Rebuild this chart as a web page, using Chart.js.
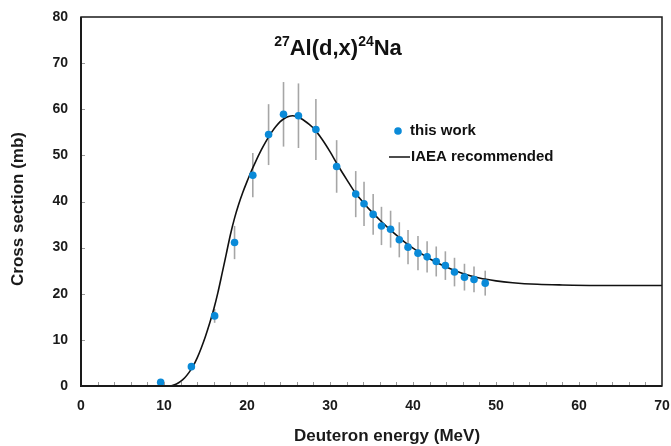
<!DOCTYPE html>
<html>
<head>
<meta charset="utf-8">
<script src="https://cdn.jsdelivr.net/npm/chart.js@4.4.1/dist/chart.umd.min.js"></script>
<style>
  html, body { margin: 0; padding: 0; background: #fff; }
  #wrap { width: 671px; height: 446px; position: relative; }
</style>
</head>
<body>
<div id="wrap"><canvas id="c" width="671" height="446"></canvas></div>
<script>
// Measured cross sections: deuteron energy (MeV), cross section (mb), uncertainty (mb)
const measEnergy = [9.6, 13.3, 16.1, 18.5, 20.7, 22.6, 24.4, 26.2, 28.3, 30.8, 33.1, 34.1, 35.2, 36.2, 37.3, 38.35, 39.4, 40.6, 41.7, 42.8, 43.9, 45.0, 46.2, 47.35, 48.7];
const measSigma  = [0.8, 4.2, 15.2, 31.1, 45.7, 54.5, 58.9, 58.6, 55.6, 47.6, 41.6, 39.5, 37.2, 34.7, 34.0, 31.7, 30.1, 28.8, 28.0, 27.0, 26.1, 24.7, 23.6, 23.1, 22.3];
const measErr    = [0.2, 0.4, 1.5, 3.6, 4.8, 6.6, 7.0, 7.0, 6.6, 5.7, 5.0, 4.8, 4.4, 4.15, 4.0, 3.8, 3.7, 3.7, 3.4, 3.25, 3.1, 3.1, 2.9, 2.8, 2.7];

// IAEA recommended excitation function
const iaeaEnergy = [10.6, 11, 11.5, 12, 12.5, 13, 13.5, 14, 14.5, 15, 15.5, 16, 16.5, 17, 17.5, 18, 18.5, 19, 19.5, 20, 20.5, 21, 21.5, 22, 22.5, 23, 23.5, 24, 24.5, 25, 25.5, 26, 26.5, 27, 27.5, 28, 29, 30, 31, 32, 33, 34, 35, 36, 37, 38, 39, 40, 42, 44, 46, 48, 50, 52, 55, 58, 62, 66, 70];
const iaeaSigma  = [0, 0.12, 0.45, 1.0, 1.8, 2.9, 4.3, 6.1, 8.3, 10.8, 13.6, 16.7, 20.3, 24.4, 28.6, 32.8, 36.4, 39.4, 42.0, 44.3, 46.5, 48.5, 50.4, 52.1, 53.7, 55.1, 56.3, 57.3, 58.0, 58.45, 58.6, 58.4, 58.0, 57.4, 56.7, 55.9, 53.6, 50.8, 47.7, 44.8, 42.0, 39.8, 37.8, 36.0, 34.3, 32.7, 31.2, 29.9, 27.6, 25.8, 24.4, 23.4, 22.8, 22.4, 22.05, 21.9, 21.8, 21.8, 21.8];

const xTickLabels = [0, 10, 20, 30, 40, 50, 60, 70];
const yTickLabels = [0, 10, 20, 30, 40, 50, 60, 70, 80];

const xTitle = 'Deuteron energy (MeV)';
const yTitle = 'Cross section (mb)';
const legendLabels = ['this work', 'IAEA recommended'];
const titleParts = [['27', true], ['Al(d,x)', false], ['24', true], ['Na', false]];

const dotColor = '#0a8ad8';
const textColor = '#1a1a1a';
const fontFam = 'Arial, "Liberation Sans", Helvetica, sans-serif';

const measPoints = measEnergy.map((e, i) => ({ x: e, y: measSigma[i] }));
const iaeaPoints = iaeaEnergy.map((e, i) => ({ x: e, y: iaeaSigma[i] }));

// Error bars, inner tick marks, frame, titles and legend
const decor = {
  id: 'decor',
  beforeDatasetsDraw(chart) {
    const ctx = chart.ctx;
    const xs = chart.scales.x, ys = chart.scales.y;
    ctx.save();
    ctx.strokeStyle = '#a6a6a6';
    ctx.lineWidth = 1.6;
    measEnergy.forEach((e, i) => {
      const px = xs.getPixelForValue(e);
      const top = ys.getPixelForValue(measSigma[i] + measErr[i]);
      const bot = ys.getPixelForValue(measSigma[i] - measErr[i]);
      ctx.beginPath();
      ctx.moveTo(px, top);
      ctx.lineTo(px, bot);
      ctx.stroke();
    });
    ctx.restore();
  },
  afterDraw(chart) {
    const ctx = chart.ctx;
    const a = chart.chartArea;
    const xs = chart.scales.x, ys = chart.scales.y;
    ctx.save();
    // inner ticks
    ctx.strokeStyle = '#9a9a9a';
    ctx.lineWidth = 1;
    for (let v = 2; v < 70; v += 2) {
      const px = Math.round(xs.getPixelForValue(v)) + 0.5;
      ctx.beginPath();
      ctx.moveTo(px, a.bottom);
      ctx.lineTo(px, a.bottom - 4);
      ctx.stroke();
    }
    for (let v = 10; v < 80; v += 10) {
      const py = Math.round(ys.getPixelForValue(v)) + 0.5;
      ctx.beginPath();
      ctx.moveTo(a.left, py);
      ctx.lineTo(a.left + 4, py);
      ctx.stroke();
    }
    // frame
    ctx.strokeStyle = textColor;
    ctx.lineWidth = 1.5;
    ctx.strokeRect(a.left, a.top, a.right - a.left, a.bottom - a.top);
    ctx.lineWidth = 2;
    ctx.beginPath();
    ctx.moveTo(a.left, a.top);
    ctx.lineTo(a.left, a.bottom);
    ctx.lineTo(a.right, a.bottom);
    ctx.stroke();

    // axis titles
    ctx.fillStyle = textColor;
    ctx.font = 'bold 17px ' + fontFam;
    ctx.textAlign = 'center';
    ctx.textBaseline = 'middle';
    ctx.fillText(xTitle, 387, 436);
    ctx.save();
    ctx.translate(18, 209);
    ctx.rotate(-Math.PI / 2);
    ctx.fillText(yTitle, 0, 0);
    ctx.restore();

    // title with superscripts
    ctx.textAlign = 'left';
    ctx.fillStyle = '#111';
    ctx.textBaseline = 'alphabetic';
    const big = 'bold 22px ' + fontFam, small = 'bold 14px ' + fontFam;
    let total = 0;
    titleParts.forEach(([t, sup]) => { ctx.font = sup ? small : big; total += ctx.measureText(t).width; });
    let tx = 338 - total / 2;
    const base = 55;
    titleParts.forEach(([t, sup]) => {
      ctx.font = sup ? small : big;
      ctx.fillText(t, tx, sup ? base - 9 : base);
      tx += ctx.measureText(t).width;
    });

    // legend
    ctx.font = 'bold 15px ' + fontFam;
    ctx.textBaseline = 'middle';
    ctx.fillStyle = dotColor;
    ctx.beginPath();
    ctx.arc(398, 131, 3.8, 0, Math.PI * 2);
    ctx.fill();
    ctx.fillStyle = '#111';
    ctx.fillText(legendLabels[0], 410, 131);
    ctx.strokeStyle = '#111';
    ctx.lineWidth = 1.5;
    ctx.beginPath();
    ctx.moveTo(389, 157);
    ctx.lineTo(410, 157);
    ctx.stroke();
    ctx.fillText(legendLabels[1], 411, 157);
    ctx.restore();
  }
};

new Chart(document.getElementById('c'), {
  type: 'scatter',
  data: {
    datasets: [
      {
        label: legendLabels[0],
        data: measPoints,
        backgroundColor: dotColor,
        borderColor: dotColor,
        pointRadius: 3.8,
        pointBorderWidth: 0,
        order: 0
      },
      {
        label: legendLabels[1],
        data: iaeaPoints,
        showLine: true,
        borderColor: '#111',
        borderWidth: 1.6,
        pointRadius: 0,
        cubicInterpolationMode: 'monotone',
        fill: false,
        order: 1
      }
    ]
  },
  options: {
    responsive: false,
    animation: false,
    layout: { padding: { top: 17, right: 9, left: 0, bottom: 0 } },
    plugins: { legend: { display: false }, tooltip: { enabled: false } },
    scales: {
      x: {
        type: 'linear',
        min: 0, max: 70,
        afterBuildTicks(scale) { scale.ticks = xTickLabels.map(v => ({ value: v })); },
        afterFit(scale) { scale.height = 60; scale.paddingLeft = 0; scale.paddingRight = 0; },
        grid: { display: false, drawTicks: false },
        border: { display: false },
        ticks: { padding: 12, color: textColor, font: { family: fontFam, size: 14, weight: 'bold' } }
      },
      y: {
        type: 'linear',
        min: 0, max: 80,
        afterBuildTicks(scale) { scale.ticks = yTickLabels.map(v => ({ value: v })); },
        afterFit(scale) { scale.width = 81; scale.paddingTop = 0; scale.paddingBottom = 0; },
        grid: { display: false, drawTicks: false },
        border: { display: false },
        ticks: { padding: 13, color: textColor, font: { family: fontFam, size: 14, weight: 'bold' } }
      }
    }
  },
  plugins: [decor]
});
</script>
</body>
</html>
